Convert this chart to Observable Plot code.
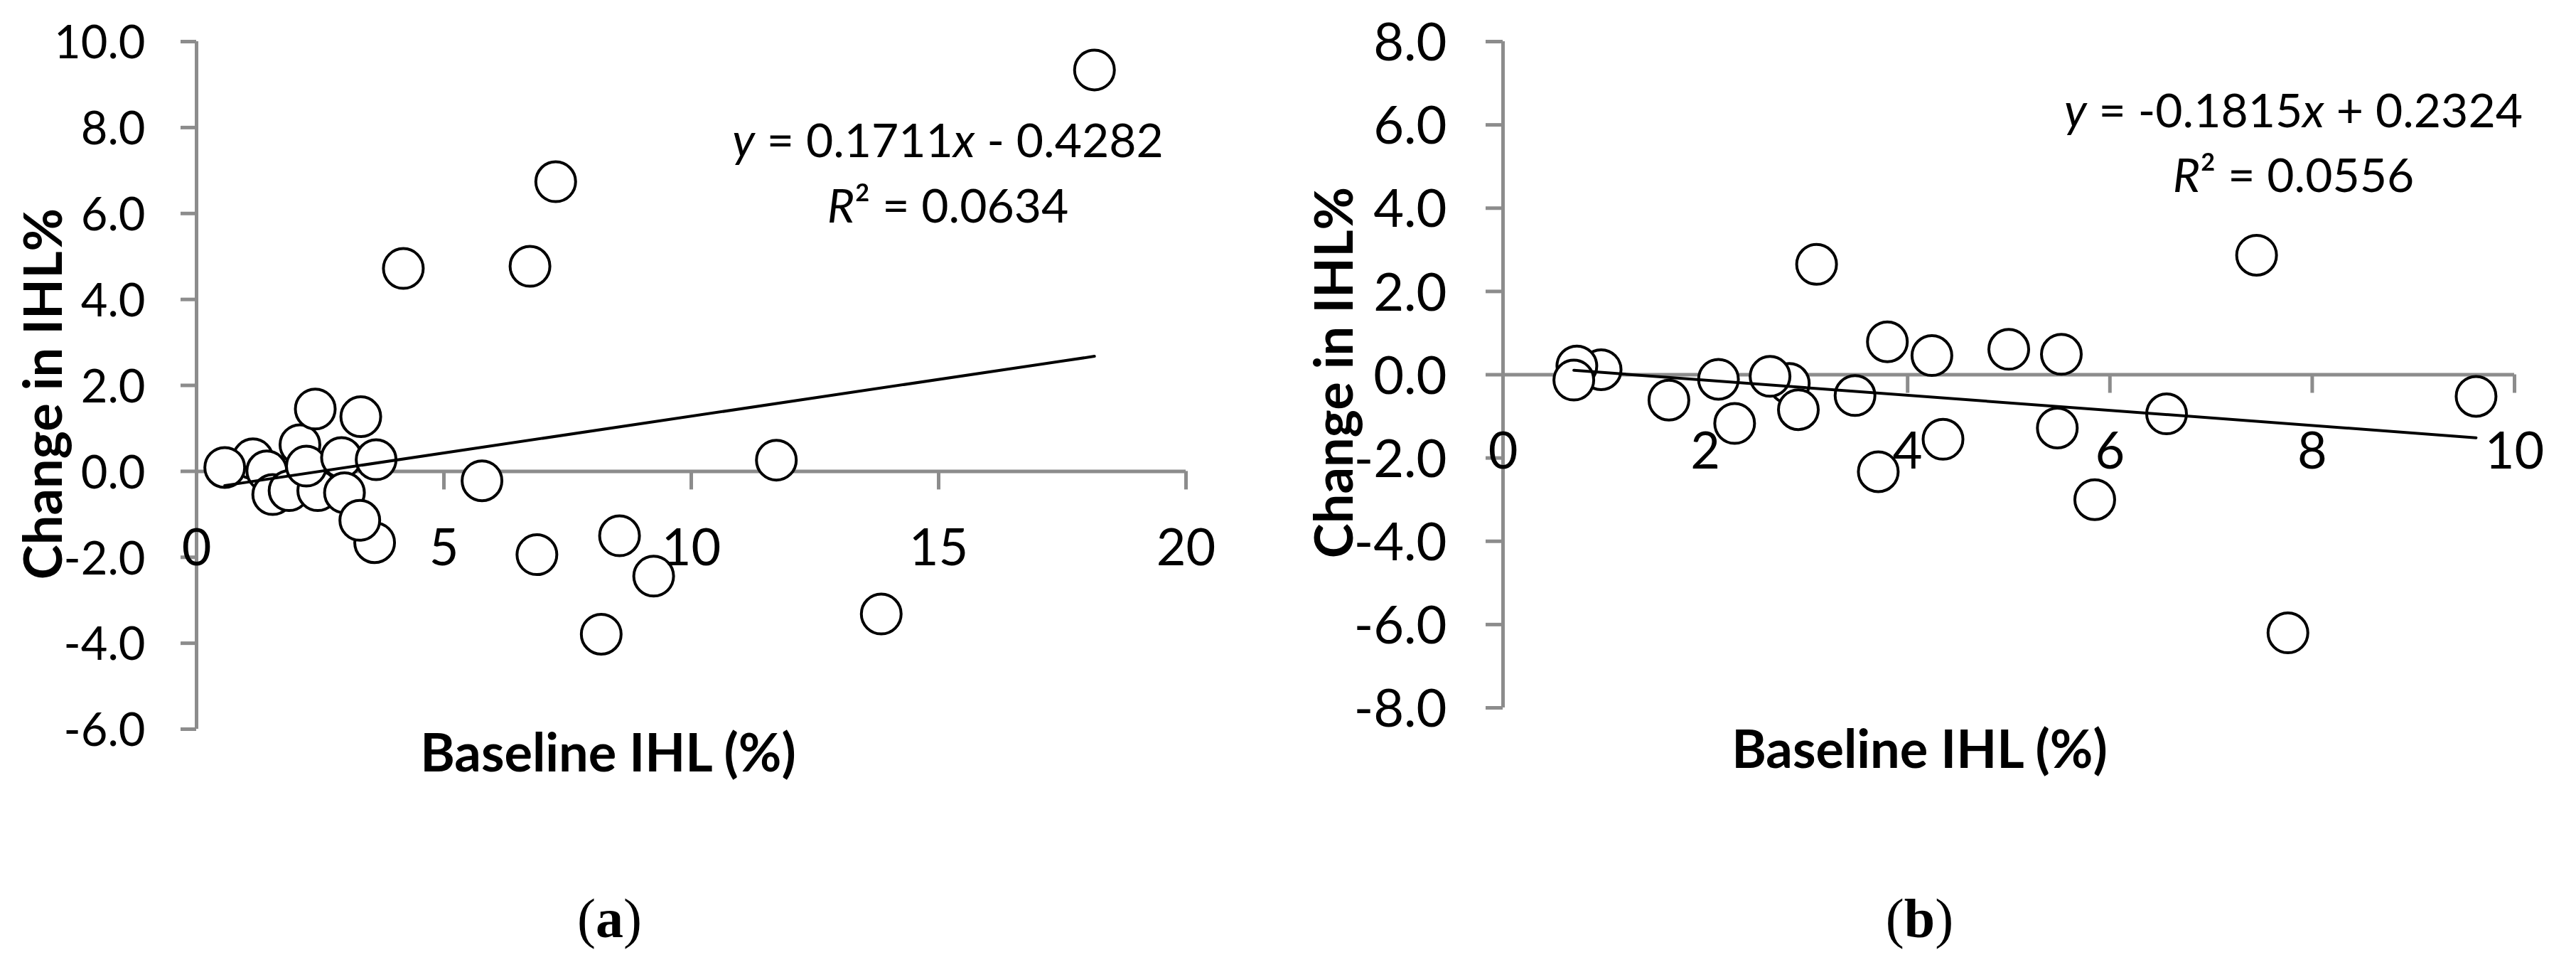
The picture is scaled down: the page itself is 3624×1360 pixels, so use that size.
<!DOCTYPE html>
<html>
<head>
<meta charset="utf-8">
<script src="https://cdn.jsdelivr.net/npm/d3@7"></script>
<script src="https://cdn.jsdelivr.net/npm/@observablehq/plot@0.6"></script>
<style>
  html, body { margin: 0; padding: 0; background: #fff; }
  #wrap { display: flex; width: 3624px; height: 1360px; background: #fff; }
  #wrap svg { flex: none; }
</style>
</head>
<body>
<div id="wrap"></div>
<script>
// ---------- Data: panel (a) ----------
const baselineA = [1.14, 1.42, 0.57, 1.54, 1.87, 2.09, 2.45, 2.22, 2.40, 2.93, 3.63, 2.99, 3.60, 3.30, 3.32, 4.18, 5.77, 6.74, 6.88, 7.26, 8.18, 8.55, 9.24, 11.72, 13.84, 18.15];
const changeA   = [0.29, 0.01, 0.09, -0.54, -0.45, 0.62, -0.45, 0.12, 1.45, 0.32, 0.27, -0.50, -1.66, -1.14, 1.27, 4.72, -0.22, 4.77, -1.94, 6.74, -3.79, -1.50, -2.44, 0.26, -3.32, 9.34];
const xTicksA = [0, 5, 10, 15, 20];
const yTicksA = [-6, -4, -2, 0, 2, 4, 6, 8, 10];
const trendA = {slope: 0.1711, intercept: -0.4282};
const eqA = ["y = 0.1711x - 0.4282", "R\u00B2 = 0.0634"];

// ---------- Data: panel (b) ----------
const baselineB = [0.97, 0.73, 0.70, 1.64, 2.13, 2.29, 2.83, 2.64, 2.92, 3.10, 3.48, 3.71, 3.80, 4.24, 4.35, 5.00, 5.48, 5.52, 5.85, 6.56, 7.45, 7.76, 9.62];
const changeB   = [0.12, 0.21, -0.13, -0.61, -0.11, -1.17, -0.21, -0.04, -0.84, 2.65, -0.50, -2.33, 0.79, 0.46, -1.55, 0.61, -1.28, 0.49, -3.00, -0.94, 2.87, -6.20, -0.52];
const xTicksB = [0, 2, 4, 6, 8, 10];
const yTicksB = [-8, -6, -4, -2, 0, 2, 4, 6, 8];
const trendB = {slope: -0.1815, intercept: 0.2324};
const eqB = ["y = -0.1815x + 0.2324", "R\u00B2 = 0.0556"];

const xTitle = "Baseline IHL (%)";
const yTitle = "Change in IHL%";
const captions = ["(a)", "(b)"];

const GRAY = "#8c8c8c";

function panel(o) {
  const pts = o.xs.map((x, i) => ({x, y: o.ys[i]}));
  const [x0, x1] = d3.extent(o.xs);
  const trend = [x0, x1].map(x => ({x, y: o.trend.slope * x + o.trend.intercept}));
  const [tx0, tx1] = d3.extent(o.xTicks);
  const [ty0, ty1] = d3.extent(o.yTicks);
  const svg = Plot.plot({
    width: o.width, height: 1360,
    marginLeft: o.ml, marginRight: o.mr, marginTop: o.mt, marginBottom: o.mb,
    x: {domain: [tx0, tx1], axis: null},
    y: {domain: [ty0, ty1], axis: null},
    style: {fontFamily: "Lato, sans-serif", background: "white", color: "black", overflow: "visible"},
    marks: [
      Plot.ruleY([0], {y: d => d, x1: tx0, x2: tx1, stroke: GRAY, strokeWidth: 5}),
      Plot.ruleX([0], {x: d => d, y1: ty0, y2: ty1, stroke: GRAY, strokeWidth: 5}),
      Plot.ruleX(o.xTicks, {x: d => d, y1: 0, y2: 0, insetTop: 0, insetBottom: -26, stroke: GRAY, strokeWidth: 5}),
      Plot.ruleY(o.yTicks, {y: d => d, x1: 0, x2: 0, insetRight: 0, insetLeft: -o.yTick, stroke: GRAY, strokeWidth: 5}),
      Plot.dot(pts, {x: "x", y: "y", r: 28, fill: "white", stroke: "black", strokeWidth: 4}),
      Plot.line(trend, {x: "x", y: "y", stroke: "black", strokeWidth: 4}),
      Plot.text(o.xTicks, {x: d => d, y: 0, dy: 109, text: d => String(d), fontSize: o.xFont, textAnchor: "middle", lineAnchor: "middle", fill: "black"}),
      Plot.text(o.yTicks, {x: 0, y: d => d, dx: o.yLabDx, dy: 3, text: d => d.toFixed(1), fontSize: o.yFont, textAnchor: "end", lineAnchor: "middle", fill: "black"}),
      Plot.text([o.eq[0]], {frameAnchor: "top", dx: o.eqDx, dy: o.eqDy[0], text: d => d, fontSize: 66, textAnchor: "middle", lineAnchor: "middle", className: "eqtext", fill: "black"}),
      Plot.text([o.eq[1]], {frameAnchor: "top", dx: o.eqDx, dy: o.eqDy[1], text: d => d, fontSize: 66, textAnchor: "middle", lineAnchor: "middle", className: "eqtext", fill: "black"}),
      Plot.text([xTitle], {frameAnchor: "bottom", dx: o.xtDx, dy: o.xtDy, text: d => d, fontSize: 74, fontWeight: "bold", textAnchor: "middle", lineAnchor: "middle", fill: "black"}),
      Plot.text([yTitle], {frameAnchor: "left", dx: o.ytDx, dy: o.ytDy, rotate: -90, text: d => d, fontSize: 74, fontWeight: "bold", textAnchor: "middle", lineAnchor: "middle", fill: "black"}),
      Plot.text([o.caption], {frameAnchor: "bottom", dx: o.xtDx + o.capDx, dy: o.capDy, text: d => d, fontSize: 78, fontFamily: "'Liberation Serif', 'Times New Roman', serif", textAnchor: "middle", lineAnchor: "middle", className: "captext", fill: "black"})
    ]
  });
  // italic variables in trendline equations
  d3.select(svg).selectAll("g.eqtext text").each(function() {
    const s = this.textContent;
    const t = d3.select(this);
    t.text(null);
    for (const part of s.split(/([yxR])/)) {
      if (!part) continue;
      const ts = t.append("tspan").text(part);
      if (/^[yxR]$/.test(part)) ts.attr("font-style", "italic");
    }
  });
  // bold panel letter in caption
  d3.select(svg).selectAll("g.captext text").each(function() {
    const s = this.textContent;
    const t = d3.select(this);
    t.text(null);
    for (const part of s.split(/([a-z])/)) {
      if (!part) continue;
      const ts = t.append("tspan").text(part);
      if (/^[a-z]$/.test(part)) ts.attr("font-weight", "bold");
    }
  });
  return svg;
}

const wrap = document.getElementById("wrap");
wrap.appendChild(panel({
  xs: baselineA, ys: changeA, xTicks: xTicksA, yTicks: yTicksA, trend: trendA, eq: eqA, caption: captions[0],
  width: 1812, ml: 276, mr: 144, mt: 58, mb: 335,
  yTick: 22, xFont: 72, yFont: 65, yLabDx: -72,
  eqDx: 361, eqDy: [141, 233],
  xtDx: -117, xtDy: 36, ytDx: -213, ytDy: 12,
  capDx: 2, capDy: 268
}));
wrap.appendChild(panel({
  xs: baselineB, ys: changeB, xTicks: xTicksB, yTicks: yTicksB, trend: trendB, eq: eqB, caption: captions[1],
  width: 1812, ml: 302, mr: 87, mt: 58, mb: 365,
  yTick: 24, xFont: 72, yFont: 74, yLabDx: -79,
  eqDx: 400.5, eqDy: [99, 190.5],
  xtDx: -125.5, xtDy: 61, ytDx: -235, ytDy: -3,
  capDx: 0, capDy: 298
}));
</script>
</body>
</html>
